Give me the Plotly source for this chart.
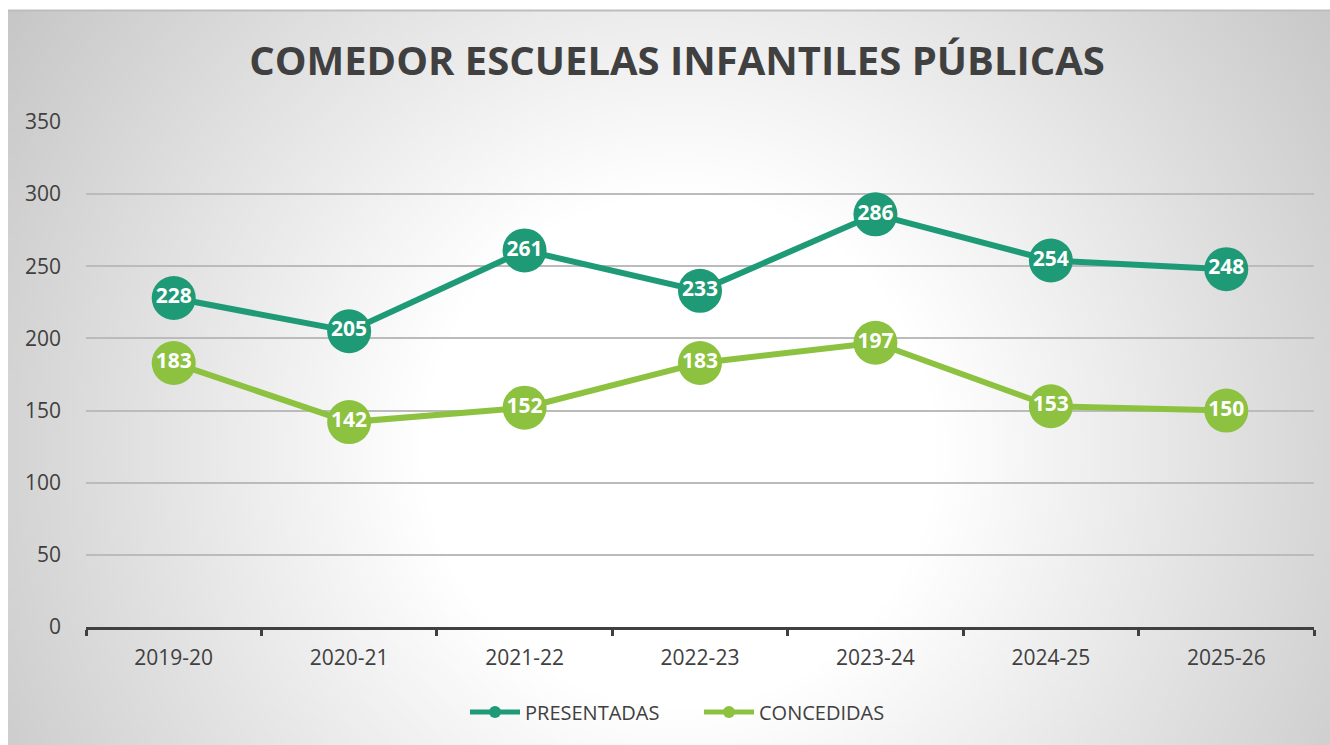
import base64
import struct
import zlib

import numpy as np
import plotly.graph_objects as go

# ---- data ----
categories = ["2019-20", "2020-21", "2021-22", "2022-23", "2023-24", "2024-25", "2025-26"]
presentadas = [228, 205, 261, 233, 286, 254, 248]
concedidas = [183, 142, 152, 183, 197, 153, 150]
series_names = ["PRESENTADAS", "CONCEDIDAS"]
series_colors = ["#1F9A77", "#8CC240"]
y_ticks = [0, 50, 100, 150, 200, 250, 300, 350]

W, H = 1330, 745
ML, MR, MT, MB = 86, 16, 122, 118
PW, PH = W - ML - MR, H - MT - MB

# ---- radial gradient background (chart area from x=8..1330, y=10..745) ----
BX0, BY0, BX1, BY1 = 8, 10, 1330, 745
gw, gh = 331, 184
xs = BX0 + (np.arange(gw) + 0.5) * (BX1 - BX0) / gw
ys = BY0 + (np.arange(gh) + 0.5) * (BY1 - BY0) / gh
XX, YY = np.meshgrid(xs, ys)
d = np.sqrt((XX - 680) ** 2 + (YY - 450) ** 2)
t = np.clip((d - 260) / (800 - 260), 0, 1)
v = (255 - 56 * t).astype(np.uint8)


def to_png(arr):
    h, w = arr.shape
    raw = b"".join(b"\x00" + arr[r].tobytes() for r in range(h))

    def chunk(tag, data):
        return struct.pack(">I", len(data)) + tag + data + struct.pack(">I", zlib.crc32(tag + data) & 0xFFFFFFFF)

    return (b"\x89PNG\r\n\x1a\n" + chunk(b"IHDR", struct.pack(">IIBBBBB", w, h, 8, 0, 0, 0, 0))
            + chunk(b"IDAT", zlib.compress(raw, 9)) + chunk(b"IEND", b""))


bg_uri = "data:image/png;base64," + base64.b64encode(to_png(v)).decode()

fig = go.Figure()

for name, vals, col in zip(series_names, [presentadas, concedidas], series_colors):
    fig.add_trace(go.Scatter(
        x=categories, y=vals, mode="lines+markers+text", name=name,
        line=dict(color=col, width=6),
        marker=dict(size=44, color=col),
        text=[str(v_) for v_ in vals], textposition="middle center",
        textfont=dict(family="Open Sans", size=21, color="white", weight="bold"),
        showlegend=False, cliponaxis=False,
    ))
for name, col in zip(series_names, series_colors):
    fig.add_trace(go.Scatter(
        x=[None], y=[None], mode="lines+markers", name=name,
        line=dict(color=col, width=5), marker=dict(size=12, color=col),
    ))

px_x = lambda p: (p - ML) / PW
px_y = lambda p: 1 - (p - MT) / PH

fig.add_layout_image(dict(
    source=bg_uri, xref="paper", yref="paper",
    x=px_x(BX0), y=px_y(BY0), sizex=(BX1 - BX0) / PW, sizey=(BY1 - BY0) / PH,
    xanchor="left", yanchor="top", sizing="stretch", layer="below",
))
fig.add_shape(type="line", xref="paper", yref="paper",
              x0=px_x(BX0), x1=px_x(BX1), y0=px_y(BY0 + 0.5), y1=px_y(BY0 + 0.5),
              line=dict(color="#BDBDBD", width=2), layer="below")

fig.update_layout(
    width=W, height=H,
    margin=dict(l=ML, r=MR, t=MT, b=MB, pad=0),
    paper_bgcolor="white", plot_bgcolor="rgba(0,0,0,0)",
    font=dict(family="Open Sans", color="#404040"),
    title=dict(text="<b>COMEDOR ESCUELAS INFANTILES PÚBLICAS</b>",
               font=dict(family="Open Sans", size=40, color="#404040"),
               x=(677 - ML) / PW, xref="paper", xanchor="center",
               y=1 - 61 / H, yref="container", yanchor="middle"),
    xaxis=dict(type="category", range=[-0.5, 6.5], showline=True, linecolor="#404040", linewidth=3,
               ticks="outside", tickson="boundaries", ticklen=6, tickwidth=3, tickcolor="#404040",
               showgrid=False, tickfont=dict(size=21, color="#404040"), ticklabelstandoff=10,
               fixedrange=True),
    yaxis=dict(range=[0, 350], tickvals=y_ticks, showgrid=True, gridcolor="#BBBBBB", gridwidth=1.5,
               zeroline=False, showline=False, tickfont=dict(size=21, color="#404040"),
               ticklabelstandoff=24, fixedrange=True),
    legend=dict(orientation="h", x=px_x(465), xanchor="left", y=px_y(712), yanchor="middle",
                font=dict(size=20, color="#404040"), bgcolor="rgba(0,0,0,0)", itemwidth=50,
                entrywidth=169, tracegroupgap=0),
)

fig.write_html("out.html", config={"displayModeBar": False},
               post_script="document.body.style.margin='0';document.body.style.overflow='hidden';")
